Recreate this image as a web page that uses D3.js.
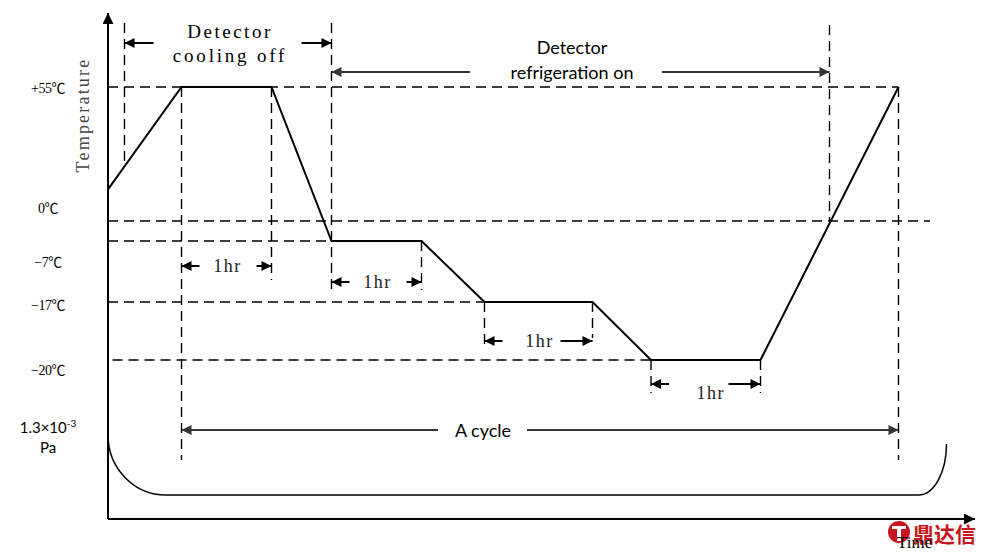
<!DOCTYPE html>
<html>
<head>
<meta charset="utf-8">
<script src="https://cdn.jsdelivr.net/npm/d3@7"></script>
<style>
  html, body { margin: 0; padding: 0; background: #fff; }
  svg { display: block; }
</style>
</head>
<body>
<div id="chart"></div>
<script>
// temperature levels (℃) and their labels
const tempLevels = [55, 0, -7, -17, -20];
const tempLabels = ['+55℃', '0℃', '−7℃', '−17℃', '−20℃'];

// temperature profile, time in minutes from the start of the drawing
const profileTime = [0, 49, 109, 149, 209, 251, 323, 362, 435, 527];
const profileTemp = [13, 55, 55, -7, -7, -17, -17, -20, -20, 55];

// 1 hour holds
const holdStart = [49, 149, 251, 362];
const holdEnd = [109, 209, 323, 435];
const holdLabel = ['1hr', '1hr', '1hr', '1hr'];

// phases
const coolingOff = [11, 149];
const refrigerationOn = [149, 481];
const cycle = [49, 527];

const width = 989,
	height = 555;

const x = d3.scaleLinear().domain([0, 578]).range([108, 975]);
const y = d3.scaleLinear().domain(tempLevels).range([87, 221, 241, 302, 360]);

const svg = d3.select('#chart')
	.append('svg')
	.attr('width', width)
	.attr('height', height);

const defs = svg.append('defs');
function marker(id, color, len, wid) {
	defs.append('marker')
		.attr('id', id)
		.attr('viewBox', '0 0 10 10')
		.attr('refX', 10)
		.attr('refY', 5)
		.attr('markerUnits', 'userSpaceOnUse')
		.attr('markerWidth', len)
		.attr('markerHeight', wid)
		.attr('orient', 'auto-start-reverse')
		.append('path')
		.attr('d', 'M0,0L10,5L0,10z')
		.attr('fill', color);
}
marker('ax', '#000', 12, 11);
marker('blk', '#000', 13, 10);
marker('gry', '#333', 14, 10);

const dash = '10,6';
const g = svg.append('g');

// horizontal guide lines at each level
const guideStart = [0, 0, 0, 0, 3];
const guideEnd = [527, 548, 149, 251, 362];
g.selectAll('.hguide')
	.data(tempLevels)
	.enter().append('line')
	.attr('x1', (d, i) => x(guideStart[i]))
	.attr('x2', (d, i) => x(guideEnd[i]))
	.attr('y1', d => y(d))
	.attr('y2', d => y(d))
	.attr('stroke', '#000')
	.attr('stroke-width', 1.4)
	.attr('stroke-dasharray', dash);

// vertical guide lines
const vguides = [
	{ t: coolingOff[0], top: 23, bottom: 166 },
	{ t: 49, top: y(55), bottom: 460 },
	{ t: 109, top: y(55), bottom: 280 },
	{ t: 149, top: 23, bottom: 290 },
	{ t: 209, top: y(-7), bottom: 290 },
	{ t: 251, top: y(-17), bottom: 350 },
	{ t: 323, top: y(-17), bottom: 338 },
	{ t: 362, top: y(-20), bottom: 393 },
	{ t: 435, top: y(-20), bottom: 393 },
	{ t: refrigerationOn[1], top: 25, bottom: y(0) },
	{ t: 527, top: y(55), bottom: 460 }
];
g.selectAll('.vguide')
	.data(vguides)
	.enter().append('line')
	.attr('x1', d => x(d.t))
	.attr('x2', d => x(d.t))
	.attr('y1', d => d.top)
	.attr('y2', d => d.bottom)
	.attr('stroke', '#000')
	.attr('stroke-width', 1.4)
	.attr('stroke-dasharray', dash);

// temperature profile
const line = d3.line()
	.x(d => x(d[0]))
	.y(d => y(d[1]));
g.append('path')
	.attr('d', line(d3.zip(profileTime, profileTemp)))
	.attr('fill', 'none')
	.attr('stroke', '#000')
	.attr('stroke-width', 2);

// vacuum curve (1.3e-3 Pa)
const pTop = 435, pBase = 495;
g.append('path')
	.attr('d', 'M' + x(0) + ',' + pTop +
		'A58,' + (pBase - pTop) + ' 0 0 0 ' + (x(0) + 58) + ',' + pBase +
		'L' + (x(559) - 28) + ',' + pBase +
		'A28,51 0 0 0 ' + x(559) + ',' + (pBase - 51))
	.attr('fill', 'none')
	.attr('stroke', '#000')
	.attr('stroke-width', 1.5);

// axes
svg.append('line')
	.attr('x1', x(0)).attr('y1', 519)
	.attr('x2', x(0)).attr('y2', 13)
	.attr('stroke', '#000').attr('stroke-width', 2)
	.attr('marker-end', 'url(#ax)');
svg.append('line')
	.attr('x1', x(0)).attr('y1', 519)
	.attr('x2', x(578)).attr('y2', 519)
	.attr('stroke', '#000').attr('stroke-width', 2)
	.attr('marker-end', 'url(#ax)');

// split arrow with a gap for text
function splitArrow(x1, x2, yy, gapL, gapR, id, color, sw) {
	g.append('line')
		.attr('x1', x1).attr('x2', gapL)
		.attr('y1', yy).attr('y2', yy)
		.attr('stroke', color).attr('stroke-width', sw)
		.attr('marker-start', 'url(#' + id + ')');
	g.append('line')
		.attr('x1', gapR).attr('x2', x2)
		.attr('y1', yy).attr('y2', yy)
		.attr('stroke', color).attr('stroke-width', sw)
		.attr('marker-end', 'url(#' + id + ')');
}

const serif = '"Liberation Serif", "Noto Sans CJK SC", serif';
const sans = 'Lato, "Open Sans", sans-serif';

// Detector cooling off
splitArrow(x(coolingOff[0]), x(coolingOff[1]), 43, x(coolingOff[0]) + 29, x(coolingOff[1]) - 30, 'blk', '#000', 2);
svg.append('text')
	.attr('x', 230).attr('y', 38)
	.attr('text-anchor', 'middle')
	.style('font-family', serif).style('font-size', '19px')
	.style('letter-spacing', '2.5px')
	.text('Detector');
svg.append('text')
	.attr('x', 230).attr('y', 62)
	.attr('text-anchor', 'middle')
	.style('font-family', serif).style('font-size', '19px')
	.style('letter-spacing', '2.8px')
	.text('cooling off');

// Detector refrigeration on
splitArrow(x(refrigerationOn[0]), x(refrigerationOn[1]), 72, 470, 662, 'gry', '#333', 2);
svg.append('text')
	.attr('x', 572).attr('y', 54)
	.attr('text-anchor', 'middle')
	.style('font-family', sans).style('font-size', '18px')
	.text('Detector');
svg.append('text')
	.attr('x', 572).attr('y', 79)
	.attr('text-anchor', 'middle')
	.style('font-family', sans).style('font-size', '18px')
	.text('refrigeration on');

// A cycle
splitArrow(x(cycle[0]), x(cycle[1]), 430, 438, 527, 'gry', '#333', 2);
svg.append('text')
	.attr('x', 483).attr('y', 437)
	.attr('text-anchor', 'middle')
	.style('font-family', sans).style('font-size', '18px')
	.text('A cycle');

// 1hr holds
const holdY = [266, 282, 341, 384];
holdStart.forEach((s, i) => {
	const a = x(s), b = x(holdEnd[i]);
	splitArrow(a, b, holdY[i], a + 18, b - 15 - (i >= 2 ? 17 : 0), 'blk', '#000', 2);
	svg.append('text')
		.attr('x', (a + b) / 2 + 1 + (i === 3 ? 4 : 0))
		.attr('y', holdY[i] + 6 + (i === 3 ? 9 : 0))
		.attr('text-anchor', 'middle')
		.style('font-family', serif).style('font-size', '18px')
		.style('letter-spacing', '1.5px')
		.attr('fill', '#222')
		.text(holdLabel[i]);
});

// y labels
const labelY = [93, 213, 267, 310, 375];
svg.selectAll('.tlab')
	.data(tempLabels)
	.enter().append('text')
	.attr('x', 48)
	.attr('y', (d, i) => labelY[i])
	.attr('text-anchor', 'middle')
	.style('font-family', serif).style('font-size', '14px')
	.style('letter-spacing', '-0.5px')
	.text(d => d);

const pLab = svg.append('text')
	.attr('x', 48).attr('y', 433)
	.attr('text-anchor', 'middle')
	.style('font-family', sans).style('font-size', '15px');
pLab.append('tspan').text('1.3×10');
pLab.append('tspan').attr('dy', -6).style('font-size', '10px').text('-3');
svg.append('text')
	.attr('x', 48).attr('y', 453)
	.attr('text-anchor', 'middle')
	.style('font-family', sans).style('font-size', '15px')
	.text('Pa');

svg.append('text')
	.attr('transform', 'translate(89,115) rotate(-90)')
	.attr('text-anchor', 'middle')
	.style('font-family', serif).style('font-size', '18px')
	.style('letter-spacing', '2.2px')
	.attr('fill', '#444')
	.text('Temperature');

// watermark
const wm = svg.append('g').attr('fill', '#c8161d');
wm.append('circle').attr('cx', 899).attr('cy', 532).attr('r', 11);
wm.append('rect').attr('x', 892).attr('y', 526).attr('width', 14).attr('height', 3).attr('fill', '#fff');
wm.append('rect').attr('x', 897).attr('y', 529).attr('width', 4).attr('height', 12).attr('fill', '#fff');
wm.append('text')
	.attr('x', 913).attr('y', 542)
	.style('font-family', '"Noto Sans CJK SC", sans-serif')
	.style('font-size', '21px').style('font-weight', 'bold')
	.text('鼎达信');

svg.append('text')
	.attr('x', 897).attr('y', 548)
	.style('font-family', serif).style('font-size', '17px')
	.text('Time');
</script>
</body>
</html>
